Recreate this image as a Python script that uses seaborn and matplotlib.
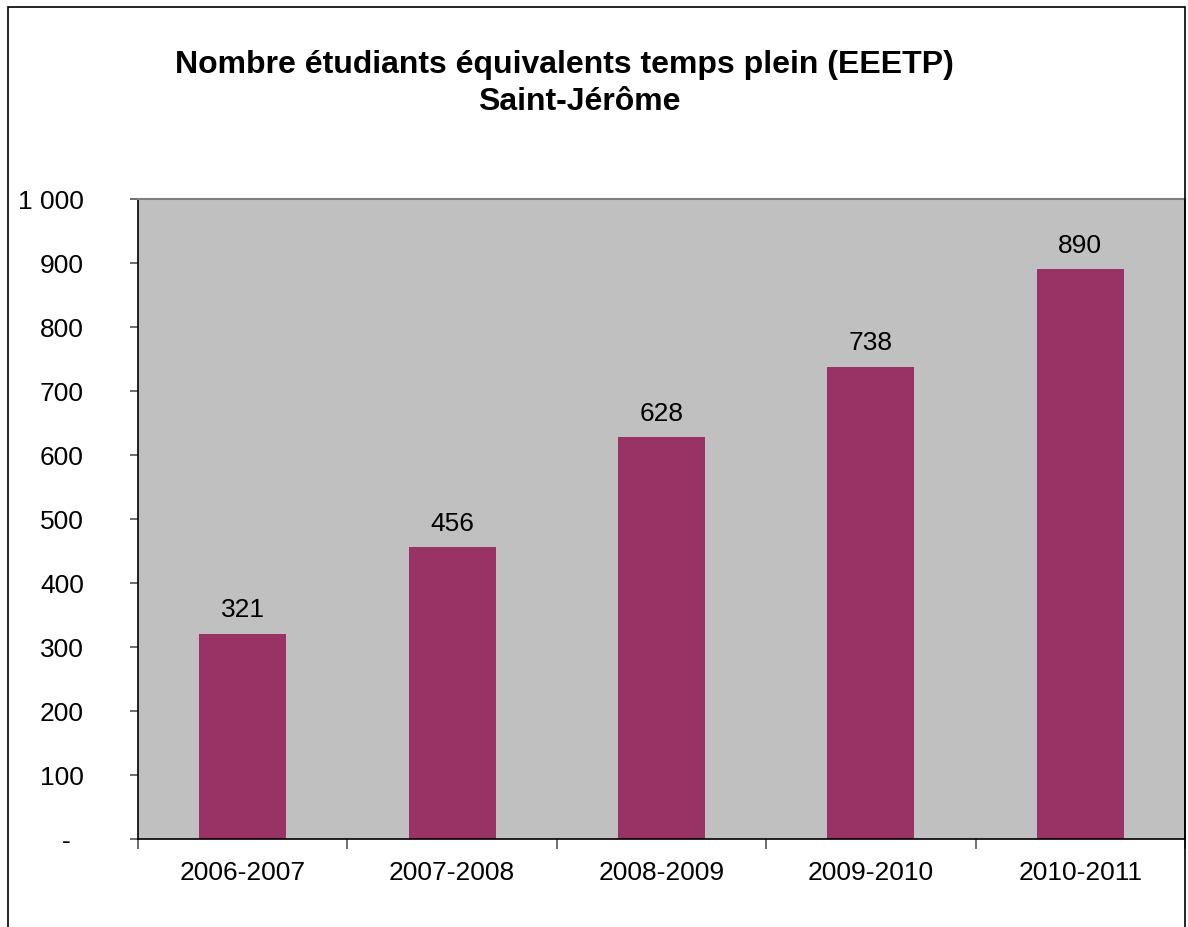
import matplotlib
matplotlib.use("Agg")
import matplotlib.pyplot as plt
import matplotlib.transforms as mtransforms
from matplotlib.patches import Rectangle
import seaborn as sns
import pandas as pd

# Academic years and full-time equivalent student counts
years = ["2006-2007", "2007-2008", "2008-2009", "2009-2010", "2010-2011"]
students = [321, 456, 628, 738, 890]
y_ticks = [0, 100, 200, 300, 400, 500, 600, 700, 800, 900, 1000]
y_tick_labels = ["-", "100", "200", "300", "400", "500", "600", "700", "800", "900", "1 000"]
title_line1 = "Nombre étudiants équivalents temps plein (EEETP)"
title_line2 = "Saint-Jérôme"

sns.set_theme(style="white")
plt.rcParams["font.family"] = ["Liberation Sans", "DejaVu Sans"]

W, H = 1188, 928
fig = plt.figure(figsize=(W / 100, H / 100), dpi=100)
fig.patch.set_facecolor("white")

ax = fig.add_axes([138 / W, 1 - 840 / H, (1185 - 138) / W, (840 - 200) / H])
ax.set_facecolor("#C0C0C0")

df = pd.DataFrame({"annee": years, "eeetp": students})
sns.barplot(data=df, x="annee", y="eeetp", color="#993366", width=0.415,
            saturation=1, ax=ax, edgecolor="none")

ax.set_xlim(-0.5, len(years) - 0.5)
ax.set_ylim(0, 1000)
ax.set_xlabel("")
ax.set_ylabel("")

# Y axis: outward ticks, accounting-style labels
ax.set_yticks(y_ticks)
ax.set_yticklabels(y_tick_labels)
ax.tick_params(axis="y", which="major", direction="out", length=6, width=1.2,
               color="#555555", pad=33, labelsize=19, left=True)
for lab in ax.get_yticklabels():
    lab.set_color("black")
    lab.set_ha("right")
    if lab.get_text() == "-":
        lab.set_transform(lab.get_transform() +
                          mtransforms.ScaledTranslation(-13 / 100, 0, fig.dpi_scale_trans))

# X axis: labels centred on categories, tick marks on category boundaries
ax.set_xticks(range(len(years)))
ax.set_xticklabels(years)
ax.tick_params(axis="x", which="major", length=0, pad=15, labelsize=19, labelcolor="black")
ax.set_xticks([i - 0.5 for i in range(len(years) + 1)], minor=True)
ax.tick_params(axis="x", which="minor", direction="out", length=7, width=1.2,
               color="#555555", bottom=True)

for side in ["left", "bottom"]:
    ax.spines[side].set_color("black")
    ax.spines[side].set_linewidth(1.2)
ax.spines["top"].set_color("#808080")
ax.spines["top"].set_linewidth(1.5)
ax.spines["right"].set_color("black")
ax.spines["right"].set_linewidth(1.2)

# Value labels above each bar
for i, v in enumerate(students):
    ax.annotate(f"{v}", xy=(i, v), xytext=(0, 12.5), textcoords="offset points",
                ha="center", va="baseline", fontsize=19, color="black")

# Two-line title
fig.text(564 / W, 1 - 73 / H, title_line1, ha="center", va="baseline",
         fontsize=23, fontweight="bold", color="black")
fig.text(579 / W, 1 - 110 / H, title_line2, ha="center", va="baseline",
         fontsize=23, fontweight="bold", color="black")

# Chart frame
fig.patches.append(Rectangle((8 / W, -0.05), (1185 - 8) / W, 1.05 - 8 / H,
                             transform=fig.transFigure, fill=False,
                             edgecolor="black", linewidth=1.2, zorder=10))

fig.savefig("out.png", dpi=100, facecolor="white")
